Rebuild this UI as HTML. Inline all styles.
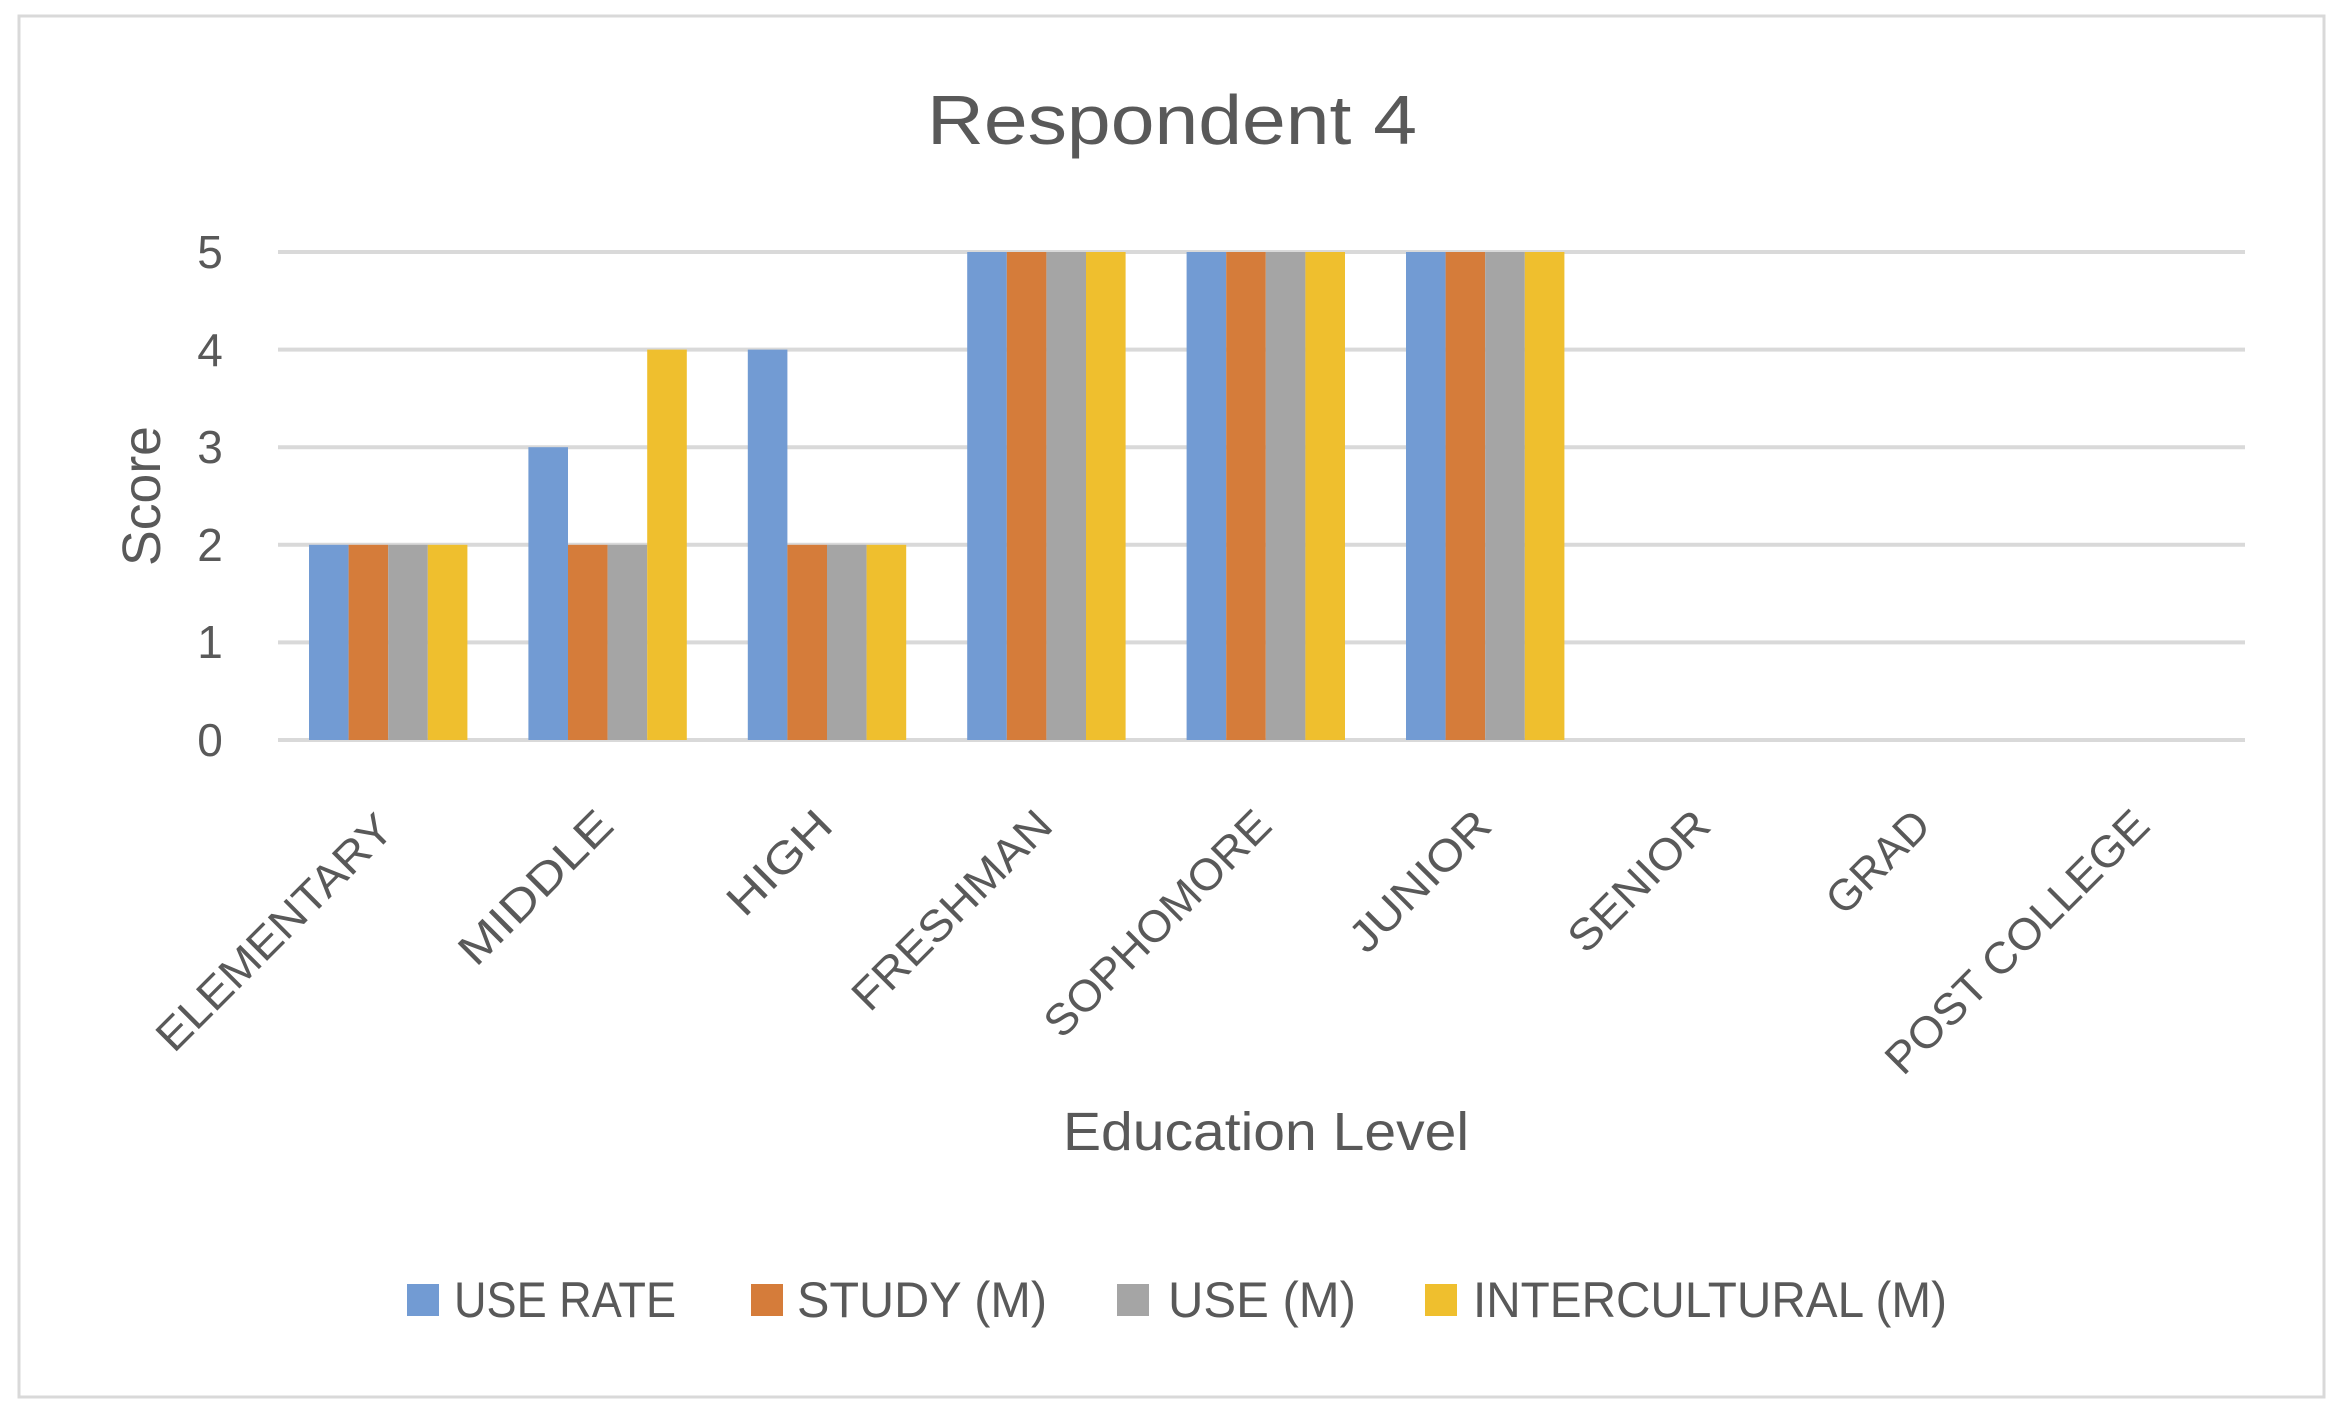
<!DOCTYPE html>
<html><head><meta charset="utf-8"><style>html,body{margin:0;padding:0;background:#fff}svg{display:block}</style></head>
<body>
<svg width="2343" height="1426" viewBox="0 0 2343 1426" xmlns="http://www.w3.org/2000/svg" font-family="Liberation Sans, sans-serif" fill="#595959">
<rect x="0" y="0" width="2343" height="1426" fill="#fff"/>
<rect x="19" y="16" width="2305" height="1381" fill="#fff" stroke="#d9d9d9" stroke-width="3"/>
<text x="1172" y="144" text-anchor="middle" font-size="70" textLength="490" lengthAdjust="spacingAndGlyphs">Respondent 4</text>
<g stroke="#d9d9d9" stroke-width="4">
<line x1="278" x2="2245" y1="252" y2="252"/>
<line x1="278" x2="2245" y1="349.6" y2="349.6"/>
<line x1="278" x2="2245" y1="447.2" y2="447.2"/>
<line x1="278" x2="2245" y1="544.8" y2="544.8"/>
<line x1="278" x2="2245" y1="642.4" y2="642.4"/>
<line x1="278" x2="2245" y1="740" y2="740"/>
</g>
<g font-size="46" text-anchor="middle">
<text x="210" y="756">0</text><text x="210" y="658">1</text><text x="210" y="561">2</text><text x="210" y="463">3</text><text x="210" y="366">4</text><text x="210" y="268">5</text>
</g>
<text transform="translate(160,496) rotate(-90)" text-anchor="middle" font-size="54" textLength="140" lengthAdjust="spacingAndGlyphs">Score</text>
<g>
<rect x="309" y="544.8" width="39.6" height="195.2" fill="#729bd3"/>
<rect x="348.6" y="544.8" width="39.6" height="195.2" fill="#d57c3a"/>
<rect x="388.2" y="544.8" width="39.6" height="195.2" fill="#a5a5a5"/>
<rect x="427.8" y="544.8" width="39.6" height="195.2" fill="#efbf2e"/>

<rect x="528.4" y="447.2" width="39.6" height="292.8" fill="#729bd3"/>
<rect x="568" y="544.8" width="39.6" height="195.2" fill="#d57c3a"/>
<rect x="607.6" y="544.8" width="39.6" height="195.2" fill="#a5a5a5"/>
<rect x="647.2" y="349.6" width="39.6" height="390.4" fill="#efbf2e"/>

<rect x="747.8" y="349.6" width="39.6" height="390.4" fill="#729bd3"/>
<rect x="787.4" y="544.8" width="39.6" height="195.2" fill="#d57c3a"/>
<rect x="827" y="544.8" width="39.6" height="195.2" fill="#a5a5a5"/>
<rect x="866.6" y="544.8" width="39.6" height="195.2" fill="#efbf2e"/>

<rect x="967.2" y="252" width="39.6" height="488" fill="#729bd3"/>
<rect x="1006.8" y="252" width="39.6" height="488" fill="#d57c3a"/>
<rect x="1046.4" y="252" width="39.6" height="488" fill="#a5a5a5"/>
<rect x="1086" y="252" width="39.6" height="488" fill="#efbf2e"/>

<rect x="1186.6" y="252" width="39.6" height="488" fill="#729bd3"/>
<rect x="1226.2" y="252" width="39.6" height="488" fill="#d57c3a"/>
<rect x="1265.8" y="252" width="39.6" height="488" fill="#a5a5a5"/>
<rect x="1305.4" y="252" width="39.6" height="488" fill="#efbf2e"/>

<rect x="1406" y="252" width="39.6" height="488" fill="#729bd3"/>
<rect x="1445.6" y="252" width="39.6" height="488" fill="#d57c3a"/>
<rect x="1485.2" y="252" width="39.6" height="488" fill="#a5a5a5"/>
<rect x="1524.8" y="252" width="39.6" height="488" fill="#efbf2e"/>
</g>
<g font-size="44" text-anchor="end">
<text transform="translate(396,832) rotate(-45)" textLength="314" lengthAdjust="spacingAndGlyphs">ELEMENTARY</text>
<text transform="translate(616,828) rotate(-45)" textLength="198" lengthAdjust="spacingAndGlyphs">MIDDLE</text>
<text transform="translate(835,828) rotate(-45)" textLength="128" lengthAdjust="spacingAndGlyphs">HIGH</text>
<text transform="translate(1055,828) rotate(-45)" textLength="262" lengthAdjust="spacingAndGlyphs">FRESHMAN</text>
<text transform="translate(1274,828) rotate(-45)" textLength="300" lengthAdjust="spacingAndGlyphs">SOPHOMORE</text>
<text transform="translate(1494,828) rotate(-45)" textLength="180" lengthAdjust="spacingAndGlyphs">JUNIOR</text>
<text transform="translate(1713,828) rotate(-45)" textLength="180" lengthAdjust="spacingAndGlyphs">SENIOR</text>
<text transform="translate(1933,828) rotate(-45)" textLength="126" lengthAdjust="spacingAndGlyphs">GRAD</text>
<text transform="translate(2152,828) rotate(-45)" textLength="352" lengthAdjust="spacingAndGlyphs">POST COLLEGE</text>
</g>
<text x="1266" y="1150" text-anchor="middle" font-size="54" textLength="406" lengthAdjust="spacingAndGlyphs">Education Level</text>
<g font-size="50">
<rect x="407" y="1284" width="32" height="32" fill="#729bd3"/>
<text x="454" y="1317" textLength="222" lengthAdjust="spacingAndGlyphs">USE RATE</text>
<rect x="751" y="1284" width="32" height="32" fill="#d57c3a"/>
<text x="797" y="1317" textLength="250" lengthAdjust="spacingAndGlyphs">STUDY (M)</text>
<rect x="1117" y="1284" width="32" height="32" fill="#a5a5a5"/>
<text x="1168" y="1317" textLength="188" lengthAdjust="spacingAndGlyphs">USE (M)</text>
<rect x="1425" y="1284" width="32" height="32" fill="#efbf2e"/>
<text x="1473" y="1317" textLength="474" lengthAdjust="spacingAndGlyphs">INTERCULTURAL (M)</text>
</g>
</svg>
</body></html>
